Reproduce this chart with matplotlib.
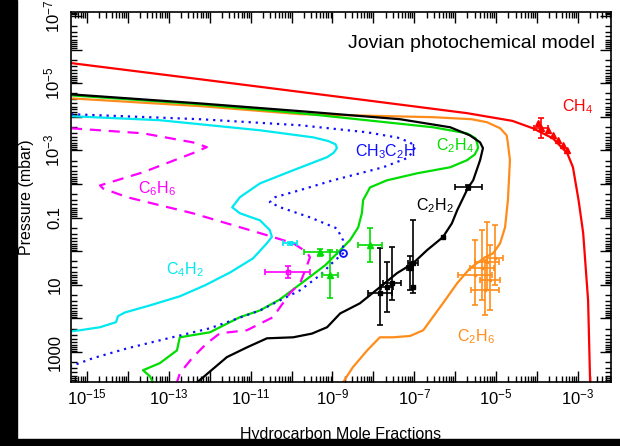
import numpy as np
import matplotlib
matplotlib.use("Agg")
import matplotlib.pyplot as plt
from matplotlib.patches import Rectangle
from matplotlib.ticker import LogLocator, FixedLocator, FixedFormatter, NullFormatter

plt.rcParams['font.family'] = ['Liberation Sans', 'DejaVu Sans']
plt.rcParams['mathtext.default'] = 'regular'

# ---- model profiles: log10(mole fraction), log10(pressure / mbar) ----
ch4_lx = [-15.39, -12.24, -8.15, -5.71, -4.60, -4.10, -3.61, -3.26, -3.12, -2.98, -2.87, -2.75, -2.70]
ch4_lp = [-5.60, -5.12, -4.49, -4.11, -3.88, -3.66, -3.36, -2.92, -2.50, -1.50, -0.54, 1.46, 3.90]

c2h6_lx = [-15.39, -12.24, -9.79, -6.54, -5.60, -5.22, -4.90, -4.74, -4.71, -4.66, -4.71, -4.78, -4.90, -5.07,
           -5.27, -5.64, -5.95, -6.30, -6.78, -7.10, -7.52, -7.84, -8.15, -8.50, -8.74]
c2h6_lp = [-4.55, -4.32, -4.08, -3.99, -3.93, -3.84, -3.66, -3.45, -3.21, -2.71, -1.52, -0.71, -0.24, 0.06,
           0.18, 0.51, 0.95, 1.55, 2.35, 2.52, 2.56, 2.56, 2.95, 3.45, 3.90]

c2h2_lx = [-15.39, -12.24, -9.79, -7.35, -6.12, -5.64, -5.39, -5.32, -5.39, -5.56, -5.68, -5.95,
           -6.08, -6.30, -6.69, -7.03, -7.42, -7.84, -8.33, -8.81, -9.13, -9.50, -9.96, -10.60, -11.09,
           -11.58, -12.16, -12.31]
c2h2_lp = [-4.67, -4.40, -4.17, -3.93, -3.69, -3.45, -3.24, -3.07, -2.71, -2.11, -1.90, -1.22,
           -0.83, -0.42, -0.03, 0.36, 0.65, 1.07, 1.55, 1.85, 2.26, 2.45, 2.56, 2.59, 2.86,
           3.15, 3.75, 3.90]

c2h4_lx = [-15.39, -12.24, -9.79, -6.54, -5.71, -5.50, -5.46, -5.44, -5.52, -5.71, -6.12, -6.93, -7.67, -8.08,
           -8.25, -8.28, -8.37, -8.57, -8.81, -9.18, -9.79, -10.28, -10.77, -11.26, -11.75, -11.99,
           -12.73, -12.80, -13.22, -13.63, -13.46, -13.39]
c2h4_lp = [-4.64, -4.375, -4.11, -3.69, -3.51, -3.36, -3.21, -3.07, -2.88, -2.71, -2.50, -2.32, -2.11, -1.90,
           -1.52, -1.13, -0.71, -0.33, -0.03, 0.42, 0.98, 1.43, 1.76, 1.96, 2.26, 2.41,
           2.56, 2.95, 3.33, 3.54, 3.72, 3.90]

c4h2_lx = [-15.39, -13.22, -10.77, -9.47, -9.10, -8.92, -8.89, -8.97, -9.13, -9.96, -10.77, -11.26, -11.45,
           -11.26, -10.77, -10.53, -10.48, -10.60, -10.94, -11.50, -12.11, -12.73, -13.46, -14.07, -14.24,
           -14.29, -14.68, -15.17, -15.39]
c4h2_lp = [-4.02, -3.90, -3.60, -3.39, -3.28, -3.18, -3.07, -2.93, -2.80, -2.41, -2.02, -1.61, -1.31,
           -1.13, -0.92, -0.63, -0.43, -0.24, 0.21, 0.63, 1.01, 1.34, 1.61, 1.82, 1.93,
           2.11, 2.26, 2.35, 2.38]

ch3c2h_lx = [-15.39, -12.24, -9.79, -8.15, -7.40, -7.10, -6.98, -7.05, -7.18, -7.76, -8.99, -9.79, -10.40,
             -10.53, -10.28, -9.55, -8.89, -8.74, -8.74, -8.99, -9.30, -9.79, -10.77, -11.99,
             -13.22, -14.02, -14.85, -15.39]
ch3c2h_lp = [-4.08, -3.93, -3.75, -3.54, -3.38, -3.24, -3.10, -2.93, -2.77, -2.50, -2.11, -1.82, -1.61,
             -1.46, -1.31, -1.01, -0.68, -0.33, 0.06, 0.33, 0.71, 1.16, 1.76, 2.29,
             2.65, 2.89, 3.18, 3.42]

c6h6_lx = [-15.39, -13.63, -12.41, -12.07, -12.41, -13.63, -14.68, -14.61, -14.02, -13.22, -12.41,
           -11.58, -10.77, -9.96, -9.62, -9.55, -9.62, -9.79, -10.04, -10.45, -11.09, -11.75,
           -12.07, -12.41, -12.73, -12.80]
c6h6_lp = [-3.66, -3.51, -3.24, -3.10, -2.92, -2.35, -1.96, -1.87, -1.61, -1.37, -1.13,
           -0.83, -0.54, -0.24, 0.03, 0.18, 0.42, 0.95, 1.25, 1.96, 2.35, 2.44,
           2.74, 3.15, 3.63, 3.90]

# ---- observations: log10 mole fraction, log10 pressure, errors in dex ----
ch4_obs_lx = [-3.97, -3.73, -3.61, -3.48, -3.36, -3.26]
ch4_obs_lp = [-3.81, -3.60, -3.45, -3.30, -3.15, -3.01]
ch4_err_lx, ch4_err_lp, ch4_err_dx, ch4_err_dp = [-3.90], [-3.66], [0.17], [0.30]

c2h2_obs_lx = [-5.68, -7.03, -7.84, -7.67, -7.54, -7.10]
c2h2_obs_lp = [-1.90, 0.36, 1.25, 1.07, 0.95, 0.51]
c2h2_obs_dx = [0.33, 0.12, 0.30, 0.15, 0.22, 0.08]
c2h2_obs_up = [0.08, 1.28, 1.34, 0.74, 1.07, 0.38]
c2h2_obs_dn = [0.08, 0.89, 0.95, 0.75, 0.51, 0.65]
c2h2_sq_lx = [-6.30, -7.03]
c2h2_sq_lp = [-0.42, 1.07]

c2h4_obs_lx = [-9.30, -9.06, -8.08]
c2h4_obs_lp = [0.03, 0.71, -0.18]
c2h4_obs_dx = [0.40, 0.20, 0.30]
c2h4_obs_up = [0.10, 0.74, 0.50]
c2h4_obs_dn = [0.10, 0.67, 0.50]

c2h6_obs_lx = [-5.51, -5.34, -5.22, -5.15, -5.02, -5.27]
c2h6_obs_lp = [0.71, 0.51, 0.33, 0.86, 0.21, 1.16]
c2h6_obs_dx = [0.42, 0.30, 0.30, 0.25, 0.20, 0.35]
c2h6_obs_up = [1.05, 1.14, 1.19, 1.04, 0.98, 0.90]
c2h6_obs_dn = [0.89, 0.95, 0.83, 0.90, 0.80, 0.75]

c6h6_obs_lx, c6h6_obs_lp, c6h6_obs_dx, c6h6_obs_dp = [-10.09], [0.63], [0.55], [0.18]
c4h2_obs_lx, c4h2_obs_lp, c4h2_obs_dx = [-10.04], [-0.24], [0.17]
ch3c2h_obs_lx, ch3c2h_obs_lp = [-8.74], [0.06]

RED, ORANGE, GREEN, CYAN, BLUE, MAGENTA = '#ff0000', '#ff8c1a', '#00dd00', '#00e8f0', '#1010ff', '#ff00ff'

fig = plt.figure(figsize=(6.2, 4.46), dpi=100, facecolor='white')
ax = fig.add_axes([71 / 620, 1 - 382 / 446, (611 - 71) / 620, (382 - 12) / 446])

def pw(v):
    return 10.0 ** np.asarray(v, dtype=float)

lw = 1.6
ax.plot(pw(ch4_lx), pw(ch4_lp), color=RED, lw=lw)
ax.plot(pw(c2h6_lx), pw(c2h6_lp), color=ORANGE, lw=lw)
ax.plot(pw(c2h4_lx), pw(c2h4_lp), color=GREEN, lw=lw)
ax.plot(pw(c2h2_lx), pw(c2h2_lp), color='black', lw=lw)
ax.plot(pw(c4h2_lx), pw(c4h2_lp), color=CYAN, lw=lw)
ax.plot(pw(ch3c2h_lx), pw(ch3c2h_lp), color=BLUE, lw=lw, ls=(0, (1, 2.2)))
ax.plot(pw(c6h6_lx), pw(c6h6_lp), color=MAGENTA, lw=lw, ls=(0, (5, 3.5)))

def logerr(lx, lp, dx, up, dn, color, marker, ms=4, mfc=None):
    lx, lp = np.asarray(lx, float), np.asarray(lp, float)
    x, p = 10 ** lx, 10 ** lp
    dx, up, dn = np.asarray(dx, float), np.asarray(up, float), np.asarray(dn, float)
    xerr = [x - 10 ** (lx - dx), 10 ** (lx + dx) - x]
    yerr = [p - 10 ** (lp - up), 10 ** (lp + dn) - p]
    ax.errorbar(x, p, xerr=xerr, yerr=yerr, fmt=marker, color=color, ms=ms,
                mfc=mfc if mfc else color, elinewidth=1.2, capsize=2.5, capthick=1.2)

ax.plot(pw(ch4_obs_lx), pw(ch4_obs_lp), '^', color=RED, ms=4)
logerr(ch4_err_lx, ch4_err_lp, ch4_err_dx, ch4_err_dp, ch4_err_dp, RED, '^')
logerr(c2h6_obs_lx, c2h6_obs_lp, c2h6_obs_dx, c2h6_obs_up, c2h6_obs_dn, ORANGE, 's', ms=2)
logerr(c2h2_obs_lx, c2h2_obs_lp, c2h2_obs_dx, c2h2_obs_up, c2h2_obs_dn, 'black', 's', ms=3)
ax.plot(pw(c2h2_sq_lx), pw(c2h2_sq_lp), 's', color='black', ms=3)
logerr(c2h4_obs_lx, c2h4_obs_lp, c2h4_obs_dx, c2h4_obs_up, c2h4_obs_dn, GREEN, '^', ms=4)
logerr(c6h6_obs_lx, c6h6_obs_lp, c6h6_obs_dx, c6h6_obs_dp, c6h6_obs_dp, MAGENTA, 's', ms=3, mfc='none')
logerr(c4h2_obs_lx, c4h2_obs_lp, c4h2_obs_dx, [0.05], [0.05], CYAN, '<', ms=3)
ax.plot(pw(ch3c2h_obs_lx), pw(ch3c2h_obs_lp), 'o', color=BLUE, ms=5, mfc='none', mew=1.3)

# species labels
fs = 11.5
ax.text(pw(-3.0), pw(-4.30), 'CH$_4$', color=RED, fontsize=fs, ha='center', va='center')
ax.text(pw(-7.7), pw(-2.95), 'CH$_3$C$_2$H', color=BLUE, fontsize=fs, ha='center', va='center')
ax.text(pw(-6.0), pw(-3.15), 'C$_2$H$_4$', color=GREEN, fontsize=fs, ha='center', va='center')
ax.text(pw(-6.5), pw(-1.35), 'C$_2$H$_2$', color='black', fontsize=fs, ha='center', va='center')
ax.text(pw(-13.3), pw(-1.85), 'C$_6$H$_6$', color=MAGENTA, fontsize=fs, ha='center', va='center')
ax.text(pw(-12.6), pw(0.55), 'C$_4$H$_2$', color=CYAN, fontsize=fs, ha='center', va='center')
ax.text(pw(-5.5), pw(2.55), 'C$_2$H$_6$', color=ORANGE, fontsize=fs, ha='center', va='center')

ax.text(0.97, 0.915, 'Jovian photochemical model', transform=ax.transAxes,
        ha='right', va='center', fontsize=14)

# axes
ax.set_xscale('log')
ax.set_yscale('log')
ax.set_xlim(pw(-15.39), pw(-2.19))
ax.set_ylim(pw(3.89), pw(-7.12))

xt_exp = [-15, -13, -11, -9, -7, -5, -3]
yt_exp = [-7, -5, -3, -1, 1, 3]
yt_lab = [r'$10^{-7}$', r'$10^{-5}$', r'$10^{-3}$', '0.1', '10', '1000']

ax.xaxis.set_major_locator(FixedLocator(pw(np.arange(-16, -1))))
ax.xaxis.set_major_formatter(FixedFormatter([r'$10^{%d}$' % e if e in xt_exp else '' for e in range(-16, -1)]))
ax.xaxis.set_minor_locator(LogLocator(base=10, subs=np.arange(2, 10), numticks=100))
ax.xaxis.set_minor_formatter(NullFormatter())

ax.yaxis.set_major_locator(FixedLocator(pw(np.arange(-8, 5))))
ylabels = []
for e in range(-8, 5):
    ylabels.append(yt_lab[yt_exp.index(e)] if e in yt_exp else '')
ax.yaxis.set_major_formatter(FixedFormatter(ylabels))
ax.yaxis.set_minor_locator(LogLocator(base=10, subs=np.arange(2, 10), numticks=100))
ax.yaxis.set_minor_formatter(NullFormatter())

ax.tick_params(which='both', direction='in', top=True, right=True, width=1.0)
ax.tick_params(which='major', length=8, labelsize=12)
ax.tick_params(axis='x', which='major', pad=4)
ax.tick_params(axis='y', which='major', pad=6)
ax.tick_params(which='minor', length=4)
for lab in ax.get_yticklabels():
    lab.set_rotation(90)
    lab.set_va('center')
for s in ax.spines.values():
    s.set_linewidth(1.2)

ax.set_xlabel('Hydrocarbon Mole Fractions', fontsize=11.5, labelpad=14)
ax.set_ylabel('Pressure (mbar)', fontsize=11.5, labelpad=6)

# dark frame on the left and bottom edges
fig.patches.append(Rectangle((0, 0), 17 / 620, 1, transform=fig.transFigure, color='black', zorder=-1))
fig.patches.append(Rectangle((0, 0), 1, 7 / 446, transform=fig.transFigure, color='black', zorder=-1))

fig.savefig('out.png', dpi=100, facecolor='white')
